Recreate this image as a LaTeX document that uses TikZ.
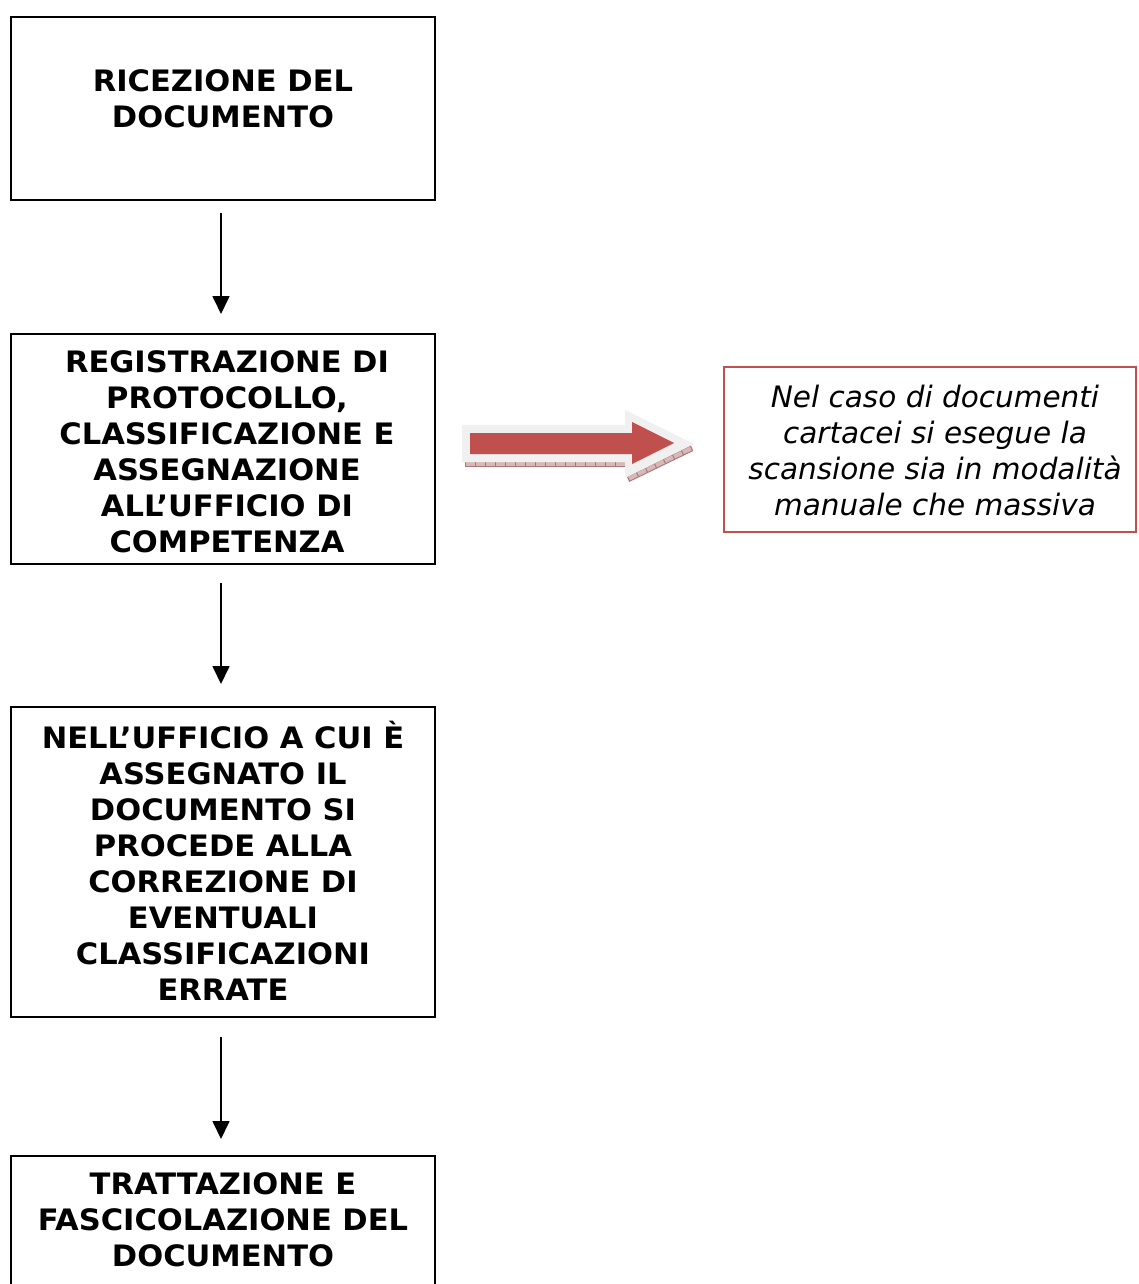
\documentclass[tikz,border=0pt]{standalone}
\usepackage{fontspec}
\setmainfont{DejaVu Sans}[BoldFeatures={FakeStretch=1.035}]
\usetikzlibrary{arrows.meta}
\definecolor{boxred}{RGB}{192,80,77}
\definecolor{halo}{RGB}{240,240,240}
\definecolor{shadowred}{RGB}{175,120,120}
\definecolor{shadowlight}{RGB}{215,185,185}
\tikzset{
  stepbox/.style={draw=black, line width=1.5pt, rectangle, minimum width=424pt, inner sep=0pt},
  steptext/.style={align=center, inner sep=0pt, font=\fontsize{29.5}{36}\selectfont\bfseries},
  notebox/.style={draw=boxred, line width=1.5pt, rectangle, minimum width=412pt, minimum height=165pt, inner sep=0pt},
  notetext/.style={align=center, inner sep=0pt, font=\fontsize{29.5}{36}\selectfont\itshape},
  flow/.style={line width=1.7pt, -{Triangle[length=18pt,width=17pt]}}
}
\begin{document}
\begin{tikzpicture}[x=1pt,y=-1pt]
\useasboundingbox (0,0) rectangle (1138,1284);
\fill[white] (0,0) rectangle (1138,1284);
% boxes
\node[stepbox, minimum height=183pt] (b1) at (223,108.5) {};
\node[stepbox, minimum height=230pt] (b2) at (223,449) {};
\node[stepbox, minimum height=310pt] (b3) at (223,862) {};
\node[stepbox, minimum height=140pt] (b4) at (223,1226) {};
\node[notebox] (n) at (930,449.5) {};
% texts
\node[steptext] (t1) at (223,99) {RICEZIONE DEL\\DOCUMENTO};
\node[steptext] (t2) at (227,452) {REGISTRAZIONE DI\\PROTOCOLLO,\\CLASSIFICAZIONE E\\ASSEGNAZIONE\\ALL’UFFICIO DI\\COMPETENZA};
\node[steptext] (t3) at (223,861) {NELL’UFFICIO A CUI È\\ASSEGNATO IL\\DOCUMENTO SI\\PROCEDE ALLA\\CORREZIONE DI\\EVENTUALI\\CLASSIFICAZIONI\\ERRATE};
\node[steptext] (t4) at (223,1220) {TRATTAZIONE E\\FASCICOLAZIONE DEL\\DOCUMENTO};
\node[notetext] (tn) at (935,450) {Nel caso di documenti\\cartacei si esegue la\\scansione sia in modalità\\manuale che massiva};
% connectors
\coordinate (a1s) at (221,213); \coordinate (a1e) at (221,314);
\coordinate (a2s) at (221,583); \coordinate (a2e) at (221,684);
\coordinate (a3s) at (221,1037); \coordinate (a3e) at (221,1139);
\draw[flow] (a1s) -- (a1e);
\draw[flow] (a2s) -- (a2e);
\draw[flow] (a3s) -- (a3e);
% block arrow with shadow
\draw[shadowlight, line width=5pt] (465,463.5) -- (625,463.5);
\draw[shadowred, line width=5pt, dash pattern=on 1pt off 9pt] (465,463.5) -- (625,463.5);
\draw[shadowred, line width=1pt] (465,461) -- (625,461) (465,466) -- (625,466);
\draw[shadowlight, line width=5pt] (628,479) -- (692,448);
\draw[shadowred, line width=5pt, dash pattern=on 1pt off 9pt] (628,479) -- (692,448);
\draw[shadowred, line width=1pt] (627,476.5) -- (691,445.5) (629,481.5) -- (693,450.5);
\fill[halo] (462,425) -- (625,425) -- (625,410) -- (694,444) -- (625,478) -- (625,462) -- (462,462) -- cycle;
\fill[boxred] (470,433) -- (632,433) -- (632,422) -- (674,443) -- (632,464) -- (632,454) -- (470,454) -- cycle;
\end{tikzpicture}
\end{document}
